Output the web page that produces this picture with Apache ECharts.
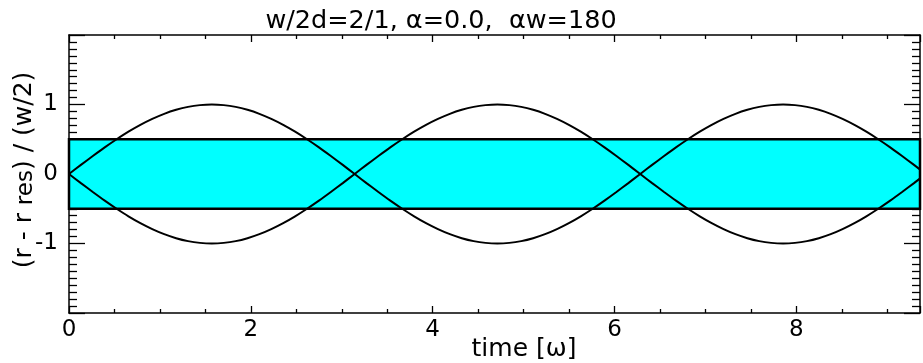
<!DOCTYPE html>
<html>
<head>
<meta charset="utf-8">
<script src="https://cdn.jsdelivr.net/npm/echarts@6/dist/echarts.min.js"></script>
<style>
  html, body { margin: 0; padding: 0; background: #fff; }
  #chart { width: 923px; height: 363px; }
</style>
</head>
<body>
<div id="chart"></div>
<script>
// Time samples [ω]
const timeSteps = [
  0.000, 0.131, 0.262, 0.393, 0.524, 0.654, 0.785, 0.916, 1.047, 1.178, 1.309, 1.440,
  1.571, 1.702, 1.833, 1.963, 2.094, 2.225, 2.356, 2.487, 2.618, 2.749, 2.880, 3.011,
  3.142, 3.272, 3.403, 3.534, 3.665, 3.796, 3.927, 4.058, 4.189, 4.320, 4.451, 4.581,
  4.712, 4.843, 4.974, 5.105, 5.236, 5.367, 5.498, 5.629, 5.760, 5.890, 6.021, 6.152,
  6.283, 6.414, 6.545, 6.676, 6.807, 6.938, 7.069, 7.199, 7.330, 7.461, 7.592, 7.723,
  7.854, 7.985, 8.116, 8.247, 8.378, 8.508, 8.639, 8.770, 8.901, 9.032, 9.163, 9.294,
  9.425
];
// Upper orbit excursion (r - r_res)/(w/2)
const upperOrbit = [
  0.000, 0.131, 0.259, 0.383, 0.500, 0.609, 0.707, 0.793, 0.866, 0.924, 0.966, 0.991,
  1.000, 0.991, 0.966, 0.924, 0.866, 0.793, 0.707, 0.609, 0.500, 0.383, 0.259, 0.131,
  0.000, 0.131, 0.259, 0.383, 0.500, 0.609, 0.707, 0.793, 0.866, 0.924, 0.966, 0.991,
  1.000, 0.991, 0.966, 0.924, 0.866, 0.793, 0.707, 0.609, 0.500, 0.383, 0.259, 0.131,
  0.000, 0.131, 0.259, 0.383, 0.500, 0.609, 0.707, 0.793, 0.866, 0.924, 0.966, 0.991,
  1.000, 0.991, 0.966, 0.924, 0.866, 0.793, 0.707, 0.609, 0.500, 0.383, 0.259, 0.131,
  0.000
];
// Lower orbit excursion
const lowerOrbit = [
  0.000, -0.131, -0.259, -0.383, -0.500, -0.609, -0.707, -0.793, -0.866, -0.924, -0.966, -0.991,
  -1.000, -0.991, -0.966, -0.924, -0.866, -0.793, -0.707, -0.609, -0.500, -0.383, -0.259, -0.131,
  0.000, -0.131, -0.259, -0.383, -0.500, -0.609, -0.707, -0.793, -0.866, -0.924, -0.966, -0.991,
  -1.000, -0.991, -0.966, -0.924, -0.866, -0.793, -0.707, -0.609, -0.500, -0.383, -0.259, -0.131,
  0.000, -0.131, -0.259, -0.383, -0.500, -0.609, -0.707, -0.793, -0.866, -0.924, -0.966, -0.991,
  -1.000, -0.991, -0.966, -0.924, -0.866, -0.793, -0.707, -0.609, -0.500, -0.383, -0.259, -0.131,
  0.000
];
// Each orbit is made of arches that meet at the separatrix crossings (sample indices)
const archBreaks = [0, 24, 48, 72];
// Island band: time extent and half-width
const bandTime = [0, 9.425];
const bandEdges = [-0.5, 0.5];
// Axis ticks
const xTickLabels = ['0', '2', '4', '6', '8'];
const yTickLabels = ['-1', '0', '1'];

const FONT = 'DejaVu Sans';

const chart = echarts.init(document.getElementById('chart'), null, { renderer: 'canvas' });

const toPairs = (xs, ys) => xs.map((x, i) => [x, ys[i]]);

// One smooth line per arch, so the crossings stay sharp
function archSeries(values, name) {
  const out = [];
  for (let k = 0; k < archBreaks.length - 1; k++) {
    const a = archBreaks[k], b = archBreaks[k + 1] + 1;
    out.push({
      name: name + (k + 1),
      type: 'line',
      data: toPairs(timeSteps.slice(a, b), values.slice(a, b)),
      showSymbol: false,
      smooth: 0.3,
      lineStyle: { color: '#000', width: 2 },
      z: 5
    });
  }
  return out;
}

const tickStyle = { color: '#000', width: 1.3 };

chart.setOption({
  animation: false,
  backgroundColor: '#fff',
  textStyle: { fontFamily: FONT },
  title: [
    {
      text: 'w/2d=2/1, α=0.0,  αw=180',
      left: 436, top: 3, textAlign: 'center',
      textStyle: { fontFamily: FONT, fontSize: 25.5, fontWeight: 'normal', color: '#000' }
    },
    {
      text: 'time [ω]',
      left: 519, top: 332, textAlign: 'center',
      textStyle: { fontFamily: FONT, fontSize: 25, fontWeight: 'normal', color: '#000' }
    }
  ],
  graphic: [
    {
      type: 'text',
      x: 24, y: 170,
      rotation: Math.PI / 2,
      style: {
        text: '(r - r {s|res}) / (w/2)',
        font: '25px "DejaVu Sans"',
        fill: '#000',
        align: 'center',
        verticalAlign: 'middle',
        rich: { s: { fontSize: 23, fontFamily: FONT, padding: [0, 0, -4, 0] } }
      }
    }
  ],
  grid: { left: 69, right: 2, top: 35, bottom: 50, containLabel: false },
  xAxis: [
    {
      type: 'value', position: 'bottom', min: 0, max: 9.36, interval: 2,
      axisLine: { show: true, onZero: false, lineStyle: { color: '#000', width: 1.5 } },
      axisTick: { show: true, inside: true, length: 7, lineStyle: tickStyle },
      minorTick: { show: true, splitNumber: 4, length: 4, lineStyle: tickStyle },
      splitLine: { show: false },
      axisLabel: {
        margin: 6, fontSize: 23, color: '#000', fontFamily: FONT,
        formatter: v => { const s = String(Math.round(v)); return xTickLabels.includes(s) ? s : ''; }
      }
    },
    {
      type: 'value', position: 'top', min: 0, max: 9.36, interval: 2,
      axisLine: { show: true, onZero: false, lineStyle: { color: '#000', width: 1.5 } },
      axisTick: { show: true, inside: true, length: 7, lineStyle: tickStyle },
      minorTick: { show: true, splitNumber: 4, length: 4, lineStyle: tickStyle },
      splitLine: { show: false },
      axisLabel: { show: false }
    }
  ],
  yAxis: [
    {
      type: 'value', position: 'left', min: -2, max: 2, interval: 1,
      axisLine: { show: true, onZero: false, lineStyle: { color: '#000', width: 1.5 } },
      axisTick: { show: true, inside: true, length: 16, lineStyle: tickStyle },
      minorTick: { show: true, splitNumber: 10, length: 8, lineStyle: tickStyle },
      splitLine: { show: false },
      axisLabel: {
        margin: 11, fontSize: 23, color: '#000', fontFamily: FONT,
        formatter: v => { const s = String(Math.round(v)); return yTickLabels.includes(s) ? s : ''; }
      }
    },
    {
      type: 'value', position: 'right', min: -2, max: 2, interval: 1,
      axisLine: { show: true, onZero: false, lineStyle: { color: '#000', width: 1.5 } },
      axisTick: { show: true, inside: true, length: 16, lineStyle: tickStyle },
      minorTick: { show: true, splitNumber: 10, length: 8, lineStyle: tickStyle },
      splitLine: { show: false },
      axisLabel: { show: false }
    }
  ],
  series: [
    {
      name: 'band',
      type: 'line',
      data: [],
      silent: true,
      markArea: {
        silent: true,
        itemStyle: { color: '#00ffff', borderColor: '#000', borderWidth: 2.5 },
        data: [[
          { xAxis: bandTime[0], yAxis: bandEdges[0] },
          { xAxis: bandTime[1], yAxis: bandEdges[1] }
        ]]
      }
    },
    ...archSeries(upperOrbit, 'upper'),
    ...archSeries(lowerOrbit, 'lower')
  ]
});
</script>
</body>
</html>
